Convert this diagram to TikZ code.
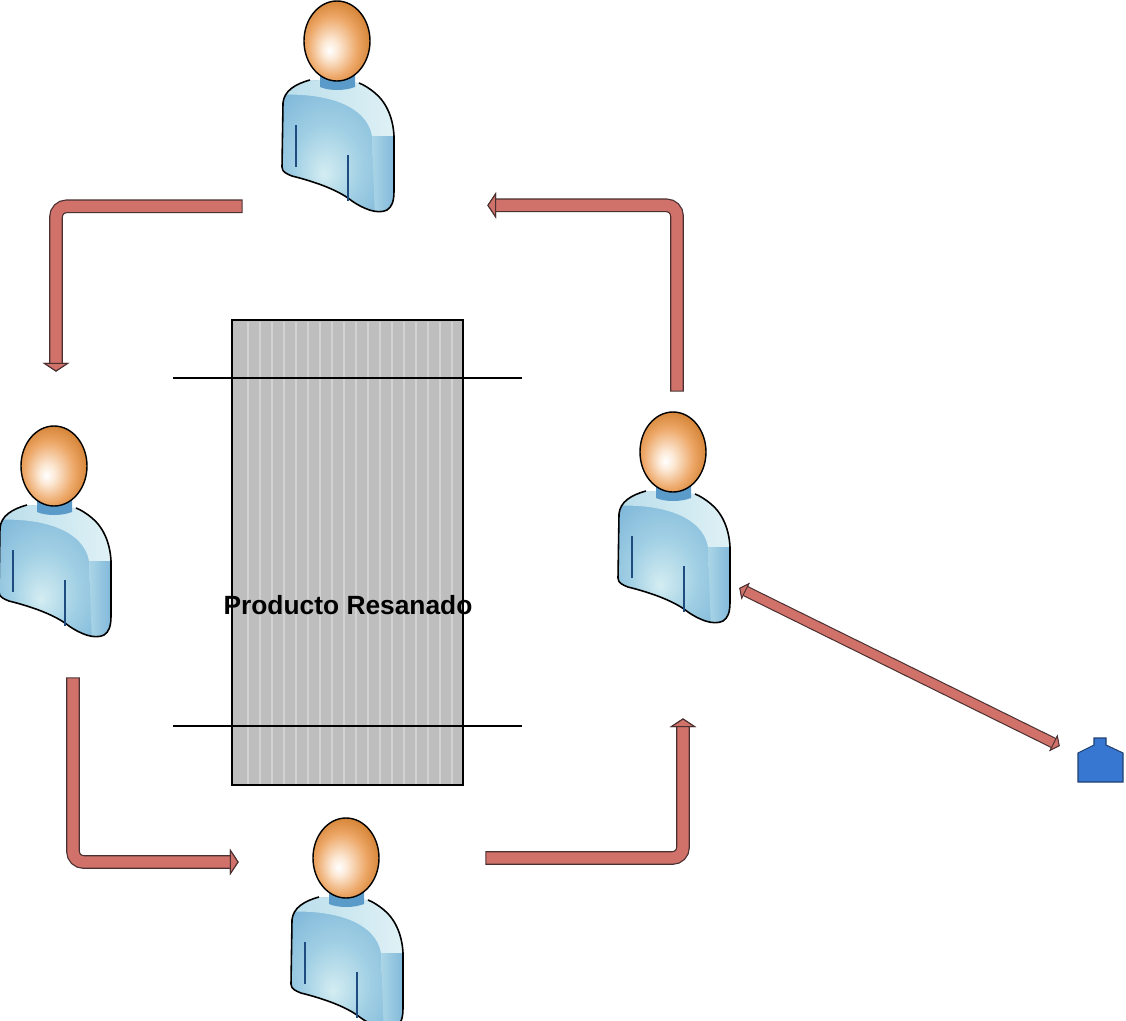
\documentclass[tikz,border=0pt]{standalone}
\usepackage{fontspec}
\setmainfont{Liberation Sans}
\usetikzlibrary{arrows.meta,positioning}

\definecolor{flowfill}{HTML}{D0716A}
\definecolor{flowline}{HTML}{4A3030}
\definecolor{skinlite}{HTML}{FCE9D6}
\definecolor{skinmid}{HTML}{EDA767}
\definecolor{skindark}{HTML}{D07E2E}
\definecolor{shirtlite}{HTML}{D4EDF2}
\definecolor{shirtmid}{HTML}{A0CFE4}
\definecolor{shirtdark}{HTML}{78B2D7}
\definecolor{neckblue}{HTML}{5B9BC9}
\definecolor{seamblue}{HTML}{1E4B80}
\definecolor{prodgray}{HTML}{BEBEBE}
\definecolor{stripegray}{HTML}{D2D2D2}
\definecolor{toolblue}{HTML}{3877D1}

% head and shirt gradients
\pgfdeclareradialshading{headball}{\pgfpoint{-6bp}{-6bp}}{color(0bp)=(white); color(6bp)=(skinlite); color(19bp)=(skinmid); color(30bp)=(skindark); color(50bp)=(skindark)}
\pgfdeclareradialshading{torso}{\pgfpoint{-6bp}{-10bp}}{color(0bp)=(shirtlite); color(14bp)=(shirtmid); color(32bp)=(shirtdark); color(50bp)=(shirtdark)}

\tikzset{
  person/.pic={
    \node[inner sep=0, minimum width=2.24cm, minimum height=4.2cm] (-fig) at (1,65) {};
    \begin{scope}
      \clip (-27,39) .. controls (-42,43) and (-53,50) .. (-54,62) -- (-55,126)
        .. controls (-55,131) and (-50,133) .. (-45,135)
        .. controls (-25,140) and (0,148) .. (15,160)
        .. controls (25,167) and (40,174) .. (50,169)
        .. controls (55,166) and (57,160) .. (57,150) -- (57,95)
        .. controls (56,75) and (48,60) .. (38,52)
        .. controls (32,47) and (27,44) .. (22,42) -- cycle;
      \shade[shading=torso] (-60,30) rectangle (62,178);
      \shade[left color=shirtmid!55!shirtlite, right color=shirtlite!70!white]
        (-60,54) .. controls (-10,51) and (30,65) .. (35,95) -- (62,95) -- (62,30) -- (-60,30) -- cycle;
      \shade[left color=shirtmid!80!shirtlite, right color=shirtdark]
        (35,95) -- (38,178) -- (62,178) -- (62,95) -- cycle;
    \end{scope}
    \draw[line width=0.9pt] (-27,39) .. controls (-42,43) and (-53,50) .. (-54,62) -- (-55,126)
      .. controls (-55,131) and (-50,133) .. (-45,135)
      .. controls (-25,140) and (0,148) .. (15,160)
      .. controls (25,167) and (40,174) .. (50,169)
      .. controls (55,166) and (57,160) .. (57,150) -- (57,95)
      .. controls (56,75) and (48,60) .. (38,52)
      .. controls (32,47) and (27,44) .. (22,42);
    \draw[seamblue, line width=0.7pt] (-41,84) -- (-41,126) (11,114) -- (11,160);
    \fill[neckblue] (-17,34) -- (-17,46) .. controls (-8,50) and (8,50) .. (18,46) -- (18,34) -- cycle;
    \shade[shading=headball, draw, line width=0.8pt] (0,0) ellipse [x radius=33, y radius=40];
  }
}

\begin{document}
\begin{tikzpicture}[
  x=0.02cm, y=-0.02cm,
  flow/.style={line width=6.4pt, draw=flowfill, rounded corners=6pt, shorten <=0.6pt,
    preaction={draw=flowline, line width=7.8pt, shorten <=0pt},
    -{Triangle[length=5pt, width=15pt, fill=flowfill, color=flowline, line width=0.6pt]}},
  dflow/.style={line width=5pt, draw=flowfill,
    preaction={draw=flowline, line width=6.3pt},
    {Triangle[length=4pt, width=10.5pt, fill=flowfill, color=flowline, line width=0.5pt]}-{Triangle[length=4pt, width=10.5pt, fill=flowfill, color=flowline, line width=0.5pt]}},
  prodbox/.style={draw, line width=0.8pt, fill=prodgray, inner sep=0, minimum width=4.62cm, minimum height=9.3cm},
  toolbox/.style={inner sep=0, minimum width=0.9cm, minimum height=0.88cm}
]
\useasboundingbox (0,0) rectangle (1126,1021);
\clip (0,0) rectangle (1126,1021);

% product under repair
\node[prodbox] (prod) at (347.5,552.5) {};
\foreach \k in {0,...,17}
  \draw[stripegray, line width=1.1pt] (248+12*\k,321.5) -- (248+12*\k,783.5);
\draw[line width=0.6pt] (173,378) -- (522,378);
\draw[line width=0.6pt] (173,726) -- (522,726);
\node[font=\bfseries\fontsize{15}{18}\selectfont] (lbl) at (348,605) {Producto Resanado};

% workers
\pic (pn) at (337,41) {person};
\pic (pw) at (54,466) {person};
\pic (ps) at (346,858) {person};
\pic (pe) at (673,452) {person};

% tool
\node[toolbox] (tool) at (1100.5,760) {};
\filldraw[fill=toolblue, draw=toolblue!55!black, line width=0.6pt]
  (1078,782) -- (1078,753) -- (1094,745) -- (1094,738) -- (1106,738)
  -- (1106,745) -- (1123,753) -- (1123,782) -- cycle;

% hand-over loop
\draw[flow] ([shift={(-39,-5)}]pn-fig.south west) -| ([shift={(1,-54)}]pw-fig.north);
\draw[flow] ([shift={(18,41)}]pw-fig.south) |- ([shift={(-52,-61)}]ps-fig.west);
\draw[flow] ([shift={(82,-65)}]ps-fig.east) -| ([shift={(9,96)}]pe-fig.south);
\draw[flow] ([shift={(3,-20)}]pe-fig.north) |- ([shift={(93,-6)}]pn-fig.south east);
\draw[dflow] ([shift={(9,71)}]pe-fig.east) -- ([shift={(-18,-14)}]tool.west);
\end{tikzpicture}
\end{document}
